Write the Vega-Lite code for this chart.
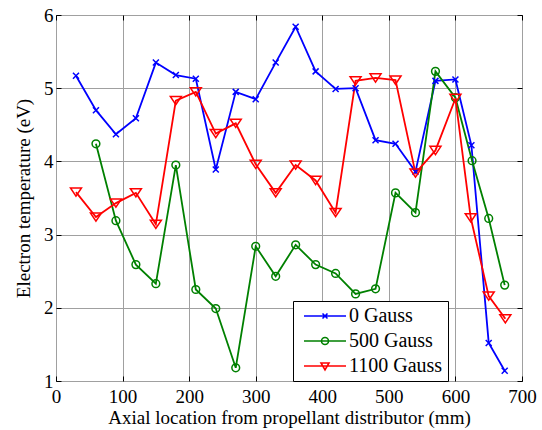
{
  "$schema": "https://vega.github.io/schema/vega-lite/v6.json",
  "width": 466,
  "height": 366,
  "autosize": "none",
  "padding": {"left": 56, "top": 15, "right": 20, "bottom": 49},
  "background": "white",
  "config": {
    "view": {"stroke": "black", "strokeWidth": 1},
    "font": "Liberation Serif",
    "style": {"guide-label": {"font": "Liberation Serif"}, "guide-title": {"font": "Liberation Serif"}},
    "axis": {
      "domain": false,
      "ticks": true,
      "tickSize": -5,
      "tickColor": "black",
      "tickWidth": 1,
      "grid": true,
      "gridColor": "#a0a0a0",
      "gridWidth": 1,
      "labelFont": "Liberation Serif",
      "labelFontSize": 19,
      "labelColor": "black",
      "labelFlush": false,
      "titleFont": "Liberation Serif",
      "titleFontSize": 19,
      "titleFontWeight": "normal",
      "titleColor": "black"
    }
  },
  "data": {
    "values": [
      {"x": 30, "y": 5.17, "series": "0 Gauss"},
      {"x": 60, "y": 4.70, "series": "0 Gauss"},
      {"x": 90, "y": 4.37, "series": "0 Gauss"},
      {"x": 120, "y": 4.59, "series": "0 Gauss"},
      {"x": 150, "y": 5.35, "series": "0 Gauss"},
      {"x": 180, "y": 5.18, "series": "0 Gauss"},
      {"x": 210, "y": 5.13, "series": "0 Gauss"},
      {"x": 240, "y": 3.89, "series": "0 Gauss"},
      {"x": 270, "y": 4.95, "series": "0 Gauss"},
      {"x": 300, "y": 4.85, "series": "0 Gauss"},
      {"x": 330, "y": 5.35, "series": "0 Gauss"},
      {"x": 360, "y": 5.84, "series": "0 Gauss"},
      {"x": 390, "y": 5.23, "series": "0 Gauss"},
      {"x": 420, "y": 4.99, "series": "0 Gauss"},
      {"x": 450, "y": 5.00, "series": "0 Gauss"},
      {"x": 480, "y": 4.29, "series": "0 Gauss"},
      {"x": 510, "y": 4.24, "series": "0 Gauss"},
      {"x": 540, "y": 3.86, "series": "0 Gauss"},
      {"x": 570, "y": 5.10, "series": "0 Gauss"},
      {"x": 600, "y": 5.12, "series": "0 Gauss"},
      {"x": 624, "y": 4.22, "series": "0 Gauss"},
      {"x": 650, "y": 1.52, "series": "0 Gauss"},
      {"x": 674, "y": 1.14, "series": "0 Gauss"},
      {"x": 60, "y": 4.24, "series": "500 Gauss"},
      {"x": 90, "y": 3.19, "series": "500 Gauss"},
      {"x": 120, "y": 2.59, "series": "500 Gauss"},
      {"x": 150, "y": 2.33, "series": "500 Gauss"},
      {"x": 180, "y": 3.95, "series": "500 Gauss"},
      {"x": 210, "y": 2.25, "series": "500 Gauss"},
      {"x": 240, "y": 1.99, "series": "500 Gauss"},
      {"x": 270, "y": 1.18, "series": "500 Gauss"},
      {"x": 300, "y": 2.84, "series": "500 Gauss"},
      {"x": 330, "y": 2.43, "series": "500 Gauss"},
      {"x": 360, "y": 2.86, "series": "500 Gauss"},
      {"x": 390, "y": 2.59, "series": "500 Gauss"},
      {"x": 420, "y": 2.47, "series": "500 Gauss"},
      {"x": 450, "y": 2.19, "series": "500 Gauss"},
      {"x": 480, "y": 2.26, "series": "500 Gauss"},
      {"x": 510, "y": 3.57, "series": "500 Gauss"},
      {"x": 540, "y": 3.30, "series": "500 Gauss"},
      {"x": 570, "y": 5.23, "series": "500 Gauss"},
      {"x": 600, "y": 4.87, "series": "500 Gauss"},
      {"x": 625, "y": 4.01, "series": "500 Gauss"},
      {"x": 650, "y": 3.22, "series": "500 Gauss"},
      {"x": 674, "y": 2.31, "series": "500 Gauss"},
      {"x": 30, "y": 3.58, "series": "1100 Gauss"},
      {"x": 60, "y": 3.24, "series": "1100 Gauss"},
      {"x": 90, "y": 3.43, "series": "1100 Gauss"},
      {"x": 120, "y": 3.57, "series": "1100 Gauss"},
      {"x": 150, "y": 3.14, "series": "1100 Gauss"},
      {"x": 180, "y": 4.83, "series": "1100 Gauss"},
      {"x": 210, "y": 4.95, "series": "1100 Gauss"},
      {"x": 240, "y": 4.38, "series": "1100 Gauss"},
      {"x": 270, "y": 4.52, "series": "1100 Gauss"},
      {"x": 300, "y": 3.96, "series": "1100 Gauss"},
      {"x": 330, "y": 3.57, "series": "1100 Gauss"},
      {"x": 360, "y": 3.95, "series": "1100 Gauss"},
      {"x": 390, "y": 3.74, "series": "1100 Gauss"},
      {"x": 420, "y": 3.30, "series": "1100 Gauss"},
      {"x": 450, "y": 5.10, "series": "1100 Gauss"},
      {"x": 480, "y": 5.14, "series": "1100 Gauss"},
      {"x": 510, "y": 5.11, "series": "1100 Gauss"},
      {"x": 540, "y": 3.84, "series": "1100 Gauss"},
      {"x": 570, "y": 4.15, "series": "1100 Gauss"},
      {"x": 600, "y": 4.86, "series": "1100 Gauss"},
      {"x": 623, "y": 3.23, "series": "1100 Gauss"},
      {"x": 650, "y": 2.16, "series": "1100 Gauss"},
      {"x": 675, "y": 1.85, "series": "1100 Gauss"}
    ]
  },
  "resolve": {"axis": {"x": "independent", "y": "independent"}},
  "layer": [
    {
      "mark": {"type": "line", "strokeWidth": 1.8},
      "encoding": {
        "x": {
          "field": "x",
          "type": "quantitative",
          "scale": {"domain": [0, 700], "nice": false, "zero": false},
          "axis": {
            "orient": "bottom",
            "values": [0, 100, 200, 300, 400, 500, 600, 700],
            "title": "Axial location from propellant distributor (mm)",
            "labelPadding": 11,
            "titlePadding": 2
          }
        },
        "y": {
          "field": "y",
          "type": "quantitative",
          "scale": {"domain": [1, 6], "nice": false, "zero": false},
          "axis": {
            "orient": "left",
            "values": [1, 2, 3, 4, 5, 6],
            "title": "Electron temperature (eV)",
            "labelPadding": 8,
            "titlePadding": 10
          }
        },
        "color": {
          "field": "series",
          "type": "nominal",
          "scale": {
            "domain": ["0 Gauss", "500 Gauss", "1100 Gauss"],
            "range": ["#0000ff", "#008000", "#ff0000"]
          },
          "legend": {
            "title": null,
            "orient": "none",
            "legendX": 237,
            "legendY": 286,
            "padding": 5,
            "strokeColor": "black",
            "fillColor": "white",
            "labelFont": "Liberation Serif",
            "labelFontSize": 20,
            "labelColor": "black",
            "symbolSize": 100,
            "symbolStrokeWidth": 1.6,
            "symbolOffset": 17,
            "labelOffset": 14,
            "rowPadding": 5,
            "encode": {
              "symbols": {
                "update": {
                  "fill": {"value": "transparent"},
                  "shape": {
                    "signal": "datum.value === '0 Gauss' ? 'M-4.2,0L4.2,0M-0.5,-0.5L0.5,0.5M-0.5,0.5L0.5,-0.5' : datum.value === '500 Gauss' ? 'M-4.2,0L4.2,0M0.7,0A0.7,0.7 0 1,1 -0.7,0A0.7,0.7 0 1,1 0.7,0' : 'M-4.2,0L4.2,0M-0.8,-0.6L0.8,-0.6L0,0.8Z'"
                  }
                }
              }
            }
          }
        }
      }
    },
    {
      "transform": [{"filter": "datum.series === '0 Gauss'"}],
      "mark": {"type": "point", "filled": false, "strokeWidth": 1.5, "opacity": 1, "color": "#0000ff", "shape": "M-1,-1L1,1M-1,1L1,-1", "size": 36},
      "encoding": {
        "x": {"field": "x", "type": "quantitative", "axis": null},
        "y": {"field": "y", "type": "quantitative", "axis": null}
      }
    },
    {
      "transform": [{"filter": "datum.series === '500 Gauss'"}],
      "mark": {"type": "point", "filled": false, "strokeWidth": 1.5, "opacity": 1, "color": "#008000", "shape": "circle", "size": 60},
      "encoding": {
        "x": {"field": "x", "type": "quantitative", "axis": null},
        "y": {"field": "y", "type": "quantitative", "axis": null}
      }
    },
    {
      "transform": [{"filter": "datum.series === '1100 Gauss'"}],
      "mark": {"type": "point", "filled": false, "strokeWidth": 1.5, "opacity": 1, "color": "#ff0000", "shape": "M-1,-0.75L1,-0.75L0,0.75Z", "size": 121},
      "encoding": {
        "x": {"field": "x", "type": "quantitative", "axis": null},
        "y": {"field": "y", "type": "quantitative", "axis": null}
      }
    },
    {
      "transform": [{"filter": "datum.series === '0 Gauss'"}],
      "mark": {"type": "point", "opacity": 0},
      "encoding": {
        "x": {
          "field": "x",
          "type": "quantitative",
          "axis": {"orient": "top", "values": [0, 100, 200, 300, 400, 500, 600, 700], "labels": false, "title": null, "grid": false}
        },
        "y": {
          "field": "y",
          "type": "quantitative",
          "axis": {"orient": "right", "values": [1, 2, 3, 4, 5, 6], "labels": false, "title": null, "grid": false}
        }
      }
    }
  ]
}
